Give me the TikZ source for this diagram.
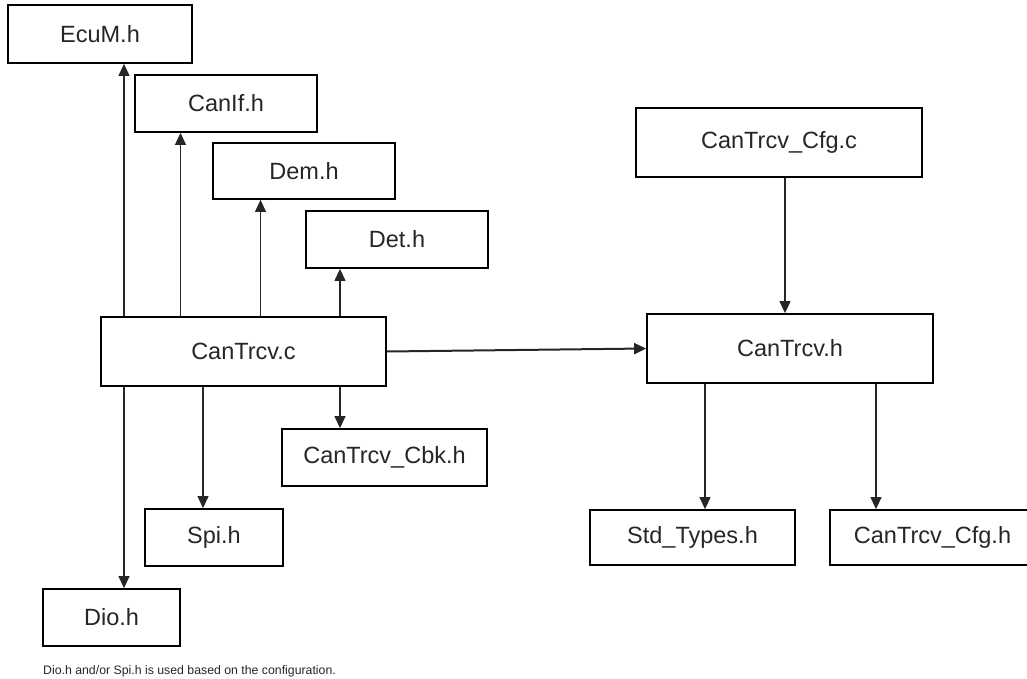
\documentclass[tikz,border=0pt]{standalone}
\usepackage{fontspec}
\setmainfont{Liberation Sans}
\usetikzlibrary{arrows.meta}
\begin{document}
\begin{tikzpicture}[x=1pt,y=-1pt,
  filebox/.style={draw=black, line width=1.8pt, fill=white, inner sep=0pt,
    font=\fontsize{23.5}{28}\selectfont, text=black!85},
  dep/.style={draw=black!85, line width=1.2pt,
    -{Triangle[length=12pt,width=11pt]}},
  mainlink/.style={dep, line width=2pt},
  note/.style={font=\fontsize{12.3}{14}\selectfont, text=black!85, anchor=west, inner sep=0pt}]
\useasboundingbox (0,0) rectangle (1027,679);
\clip (0,0) rectangle (1027,679);

% header and source files
\node[filebox, minimum width=184pt, minimum height=58pt] (ecum) at (100,34) {EcuM.h};
\node[filebox, minimum width=182pt, minimum height=57pt] (canif) at (226,103.5) {CanIf.h};
\node[filebox, minimum width=182pt, minimum height=56pt] (dem) at (304,171) {Dem.h};
\node[filebox, minimum width=182pt, minimum height=57pt] (det) at (397,239.5) {Det.h};
\node[filebox, minimum width=285pt, minimum height=69pt] (trcvc) at (243.5,351.5) {CanTrcv.c};
\node[filebox, minimum width=205pt, minimum height=57pt] (cbk) at (384.5,457.5) {CanTrcv\_Cbk.h};
\node[filebox, minimum width=138pt, minimum height=57pt] (spi) at (214,537.5) {Spi.h};
\node[filebox, minimum width=137pt, minimum height=57pt] (dio) at (111.5,617.5) {Dio.h};
\node[filebox, minimum width=286pt, minimum height=69pt] (cfgc) at (779,142.5) {CanTrcv\_Cfg.c};
\node[filebox, minimum width=286pt, minimum height=69pt] (trcvh) at (790,348.5) {CanTrcv.h};
\node[filebox, minimum width=205pt, minimum height=55pt] (std) at (692.5,537.5) {Std\_Types.h};
\node[filebox, minimum width=205pt, minimum height=55pt] (cfgh) at (932.5,537.5) {CanTrcv\_Cfg.h};

\node[note] (footnote) at (43,671) {Dio.h and/or Spi.h is used based on the configuration.};

% vertical positions of the connector lines
\coordinate (xa) at (124,0);
\coordinate (xb) at (180.5,0);
\coordinate (xc) at (260.5,0);
\coordinate (xd) at (340,0);
\coordinate (xs) at (203,0);
\coordinate (xg) at (785,0);
\coordinate (xt) at (705,0);
\coordinate (xh) at (876,0);

% includes of CanTrcv.c
\draw[dep] (xa |- trcvc.north) -- (xa |- ecum.south);
\draw[dep] (xb |- trcvc.north) -- (xb |- canif.south);
\draw[dep] (xc |- trcvc.north) -- (xc |- dem.south);
\draw[dep] (xd |- trcvc.north) -- (xd |- det.south);
\draw[dep] (xd |- trcvc.south) -- (xd |- cbk.north);
\draw[dep] (xs |- trcvc.south) -- (xs |- spi.north);
\draw[dep] (xa |- trcvc.south) -- (xa |- dio.north);
\draw[mainlink] (trcvc.east) -- (trcvh.west);

% includes of the configuration and CanTrcv.h
\draw[dep] (xg |- cfgc.south) -- (xg |- trcvh.north);
\draw[dep] (xt |- trcvh.south) -- (xt |- std.north);
\draw[dep] (xh |- trcvh.south) -- (xh |- cfgh.north);
\end{tikzpicture}
\end{document}
